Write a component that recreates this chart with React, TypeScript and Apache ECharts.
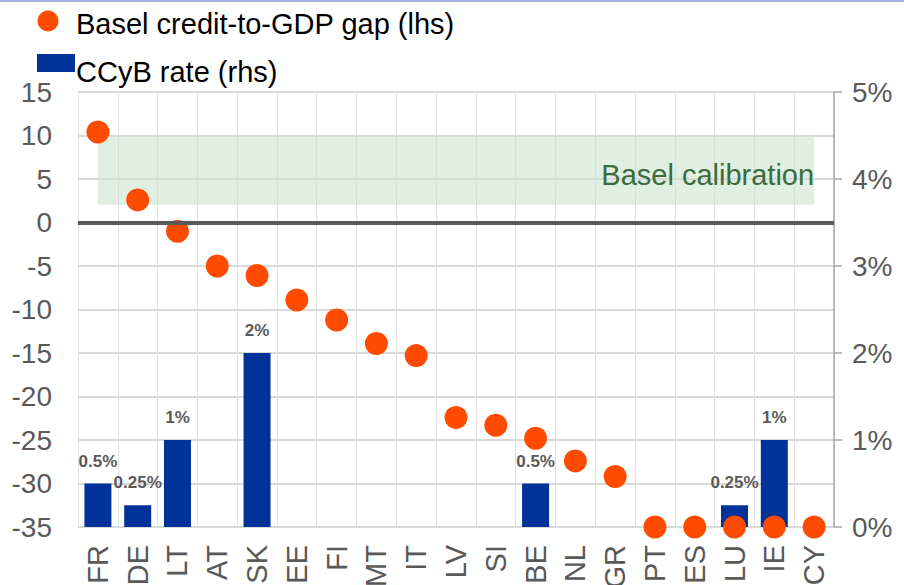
import React, { useEffect, useRef } from "react";
import * as echarts from "echarts";

const categories = ["FR", "DE", "LT", "AT", "SK", "EE", "FI", "MT", "IT", "LV", "SI", "BE", "NL", "GR", "PT", "ES", "LU", "IE", "CY"];
const creditGap = [10.4, 2.6, -1.0, -5.0, -6.1, -8.9, -11.2, -13.9, -15.3, -22.4, -23.3, -24.8, -27.4, -29.2, -35, -35, -35, -35, -35];
const ccybRate = [0.5, 0.25, 1, 0, 2, 0, 0, 0, 0, 0, 0, 0.5, 0, 0, 0, 0, 0.25, 1, 0];
const leftTicks = { min: -35, max: 15, interval: 5 };
const rightTicks = { min: 0, max: 5, interval: 1 };
const baselBand = [2, 10];

const FONT = "'Liberation Sans', Arial, sans-serif";
const GREY = "#595959";

export default function App() {
  const ref = useRef<HTMLDivElement>(null);
  useEffect(() => {
    if (!ref.current) return;
    const chart = echarts.init(ref.current, null, { renderer: "svg" });
    chart.setOption({
      animation: false,
      backgroundColor: "#ffffff",
      textStyle: { fontFamily: FONT },
      grid: { left: 78, right: 70, top: 92, bottom: 58, containLabel: false, outerBoundsMode: "none" },
      graphic: [
        { type: "line", shape: { x1: 0, y1: 1, x2: 904, y2: 1 }, style: { stroke: "#9db3de", lineWidth: 2 } },
        { type: "circle", shape: { cx: 48, cy: 21, r: 10.5 }, style: { fill: "#ff4b00" } },
        { type: "text", x: 76, y: 24, style: { text: "Basel credit-to-GDP gap (lhs)", fill: "#000", font: `29px ${FONT}`, verticalAlign: "middle" } },
        { type: "rect", shape: { x: 37, y: 54, width: 38, height: 18 }, style: { fill: "#003299" } },
        { type: "text", x: 76, y: 72, style: { text: "CCyB rate (rhs)", fill: "#000", font: `29px ${FONT}`, verticalAlign: "middle" } },
      ],
      xAxis: {
        type: "category",
        data: categories,
        axisLine: { show: false },
        axisTick: { show: false },
        splitLine: { show: true, lineStyle: { color: "#e2e2e2", width: 1 } },
        axisLabel: { rotate: 90, fontSize: 29, color: GREY, margin: 18, fontFamily: FONT },
      },
      yAxis: [
        {
          type: "value",
          min: leftTicks.min,
          max: leftTicks.max,
          interval: leftTicks.interval,
          axisLine: { show: false },
          axisTick: { show: false },
          splitLine: { lineStyle: { color: "#d9d9d9", width: 2 } },
          axisLabel: { fontSize: 28, color: GREY, margin: 26, fontFamily: FONT },
        },
        {
          type: "value",
          position: "right",
          min: rightTicks.min,
          max: rightTicks.max,
          interval: rightTicks.interval,
          axisLine: { show: true, lineStyle: { color: "#a6a6a6", width: 1.5 } },
          axisTick: { show: true, length: 8, lineStyle: { color: "#a6a6a6", width: 1.5 } },
          splitLine: { show: false },
          axisLabel: { fontSize: 28, color: GREY, margin: 18, formatter: "{value}%", fontFamily: FONT },
        },
      ],
      series: [
        {
          name: "CCyB rate (rhs)",
          type: "bar",
          yAxisIndex: 1,
          data: ccybRate,
          barWidth: 27,
          z: 2,
          itemStyle: { color: "#003299" },
          label: {
            show: true,
            position: "top",
            distance: 14,
            fontSize: 17,
            fontWeight: "bold",
            color: GREY,
            fontFamily: FONT,
            formatter: (p: any) => (p.value ? `${p.value}%` : ""),
          },
        },
        {
          name: "Basel credit-to-GDP gap (lhs)",
          type: "scatter",
          yAxisIndex: 0,
          data: creditGap,
          symbolSize: 23,
          z: 3,
          itemStyle: { color: "#ff4b00", opacity: 1 },
          markArea: {
            silent: true,
            itemStyle: { color: "rgba(200,225,203,0.55)" },
            label: {
              show: true,
              position: "insideRight",
              distance: 0,
              offset: [0, 5],
              color: "#3b6b3e",
              fontSize: 29,
              fontFamily: FONT,
            },
            data: [[
              { name: "Basel calibration", xAxis: categories[0], yAxis: baselBand[1] },
              { xAxis: categories[categories.length - 1], yAxis: baselBand[0] },
            ]],
          },
          markLine: {
            silent: true,
            symbol: "none",
            label: { show: false },
            lineStyle: { color: GREY, width: 4, type: "solid" },
            data: [{ yAxis: 0 }],
          },
        },
      ],
    });
    return () => chart.dispose();
  }, []);
  return <div ref={ref} style={{ position: "fixed", left: 0, top: 0, width: 904, height: 585 }} />;
}
